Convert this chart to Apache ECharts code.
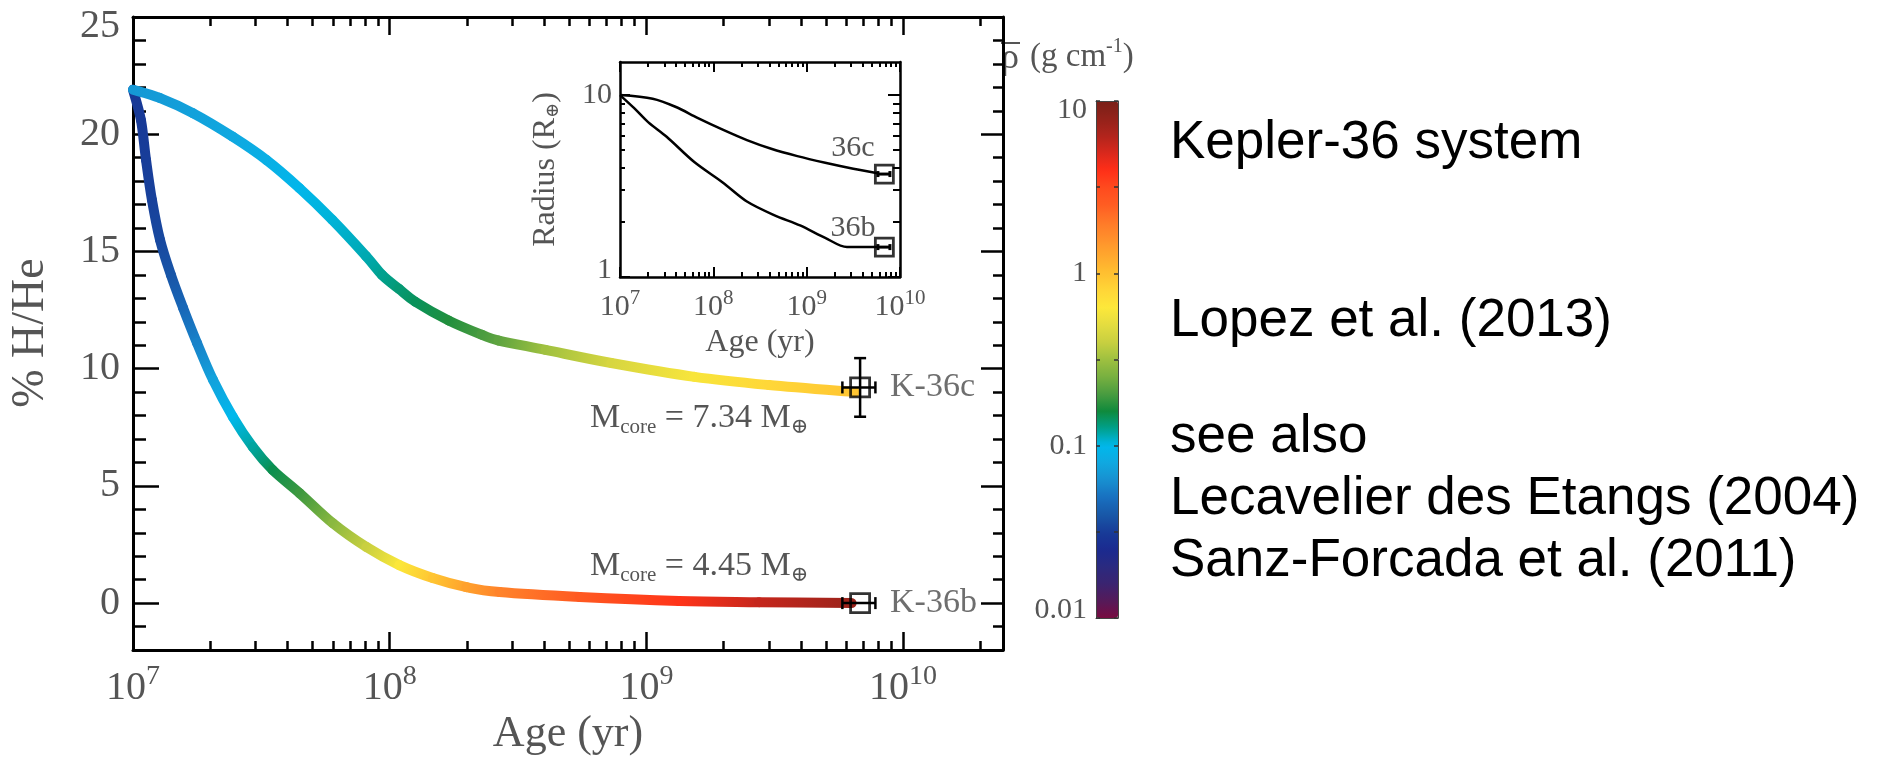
<!DOCTYPE html>
<html>
<head>
<meta charset="utf-8">
<script src="https://cdn.jsdelivr.net/npm/echarts@6/dist/echarts.min.js"></script>
<style>
  html, body { margin: 0; padding: 0; background: #fff; }
  #chart { width: 1882px; height: 757px; }
</style>
</head>
<body>
<div id="chart"></div>
<script>
// ---- Fonts and colours ----
const SERIF = "'Liberation Serif', 'DejaVu Serif', serif";
const SANS = "'Liberation Sans', 'DejaVu Sans', sans-serif";
const TEXT_GRAY = '#555';

// ---- Main panel: H/He envelope fraction (%) vs age (yr), with mean density (g cm^-3) ----
const ageC = [1e7, 1.27e7, 1.71e7, 2.44e7, 3.31e7, 4.45e7, 5.97e7, 8.09e7, 9.33e7, 1.087e8, 1.26e8, 1.7e8, 2.28e8, 2.66e8, 4.05e8, 7.3e8, 1.54e9, 3.0e9, 6.5e9];
const hheC = [21.9, 21.55, 20.9, 19.9, 18.9, 17.7, 16.35, 14.8, 14.0, 13.4, 12.85, 12.05, 11.45, 11.2, 10.8, 10.24, 9.65, 9.3, 9.0];
const rhoC = [0.068, 0.07, 0.074, 0.08, 0.088, 0.097, 0.105, 0.115, 0.125, 0.135, 0.145, 0.17, 0.2, 0.22, 0.32, 0.45, 0.6, 0.78, 0.95];

const ageB = [1e7, 1.074e7, 1.124e7, 1.185e7, 1.274e7, 1.405e7, 1.566e7, 1.775e7, 2.05e7, 2.45e7, 2.93e7, 3.5e7, 4.46e7, 6.0e7, 8.12e7, 1.09e8, 1.47e8, 1.99e8, 2.68e8, 5.5e8, 1.34e9, 2.75e9, 6.3e9];
const hheB = [21.9, 20.6, 18.9, 17.2, 15.5, 14.0, 12.6, 11.1, 9.52, 7.94, 6.66, 5.68, 4.69, 3.41, 2.39, 1.62, 1.07, 0.68, 0.47, 0.26, 0.09, 0.04, 0.0];
const rhoB = [0.03, 0.031, 0.032, 0.033, 0.035, 0.039, 0.046, 0.057, 0.075, 0.1, 0.12, 0.15, 0.19, 0.28, 0.4, 0.62, 0.95, 1.35, 1.8, 2.6, 3.8, 5.6, 7.4];

// ---- Observed planets ----
const planetNames = ['K-36c', 'K-36b'];
const planetAge = [6.8e9, 6.8e9];
const planetAgeLow = [5.8e9, 5.8e9];
const planetAgeHigh = [7.8e9, 7.8e9];
const planetHHe = [9.2, 0.0];
const planetHHeLow = [7.95, 0.0];
const planetHHeHigh = [10.45, 0.0];
const planetRadius = [3.68, 1.46];
const insetNames = ['36c', '36b'];
const coreMasses = ['7.34', '4.45'];

// ---- Inset: radius (Earth radii) vs age ----
const radAgeC = [1e7, 2.24e7, 3.98e7, 6.76e7, 1.26e8, 2.29e8, 4.17e8, 7.94e8, 1.58e9, 3.16e9, 5.75e9];
const radC = [10, 9.55, 8.6, 7.5, 6.46, 5.66, 5.07, 4.62, 4.25, 3.94, 3.72];
const radAgeB = [1e7, 1.41e7, 2.0e7, 3.16e7, 6.3e7, 1.26e8, 2.29e8, 4.47e8, 8.5e8, 1.58e9, 2.7e9, 5.75e9];
const radB = [10, 8.5, 7.1, 5.9, 4.27, 3.31, 2.6, 2.19, 1.92, 1.64, 1.46, 1.46];

// ---- Ticks ----
const ageDecades = [1e7, 1e8, 1e9, 1e10];
const hheMajorTicks = [0, 5, 10, 15, 20, 25];
const hheMinorTicks = [-1, 1, 2, 3, 4, 6, 7, 8, 9, 11, 12, 13, 14, 16, 17, 18, 19, 21, 22, 23, 24];
const radiusMajorTicks = [1, 10];
const radiusMinorTicks = [2, 3, 4, 5, 6, 7, 8, 9];
const rhoLabelTicks = [0.01, 0.1, 1, 10];
const rhoTickMarks = [0.01, 0.0316, 0.1, 0.316, 1, 3.16, 10];

// Density colour scale, log10(rho) from -2 to 1 in steps of 0.1
const rhoColors = ['#780c40', '#551a5a', '#3a2470', '#2a2a80', '#1a2a90', '#183c98', '#1858a8', '#1870c0', '#1890d0', '#10a8e0',
  '#00b8ec', '#00a08c', '#0f8a3c', '#4a9c40', '#78b040', '#9ec040', '#c8d040', '#e4dc40', '#fde83a', '#ffd638',
  '#ffc030', '#ffa82e', '#ff902c', '#ff7828', '#ff5c22', '#ff4a1e', '#ff2e18', '#d8281c', '#b0241c', '#92221a', '#7a2018'];

const sideNotes = ['Kepler-36 system', 'Lopez et al. (2013)', 'see also', 'Lecavelier des Etangs (2004)', 'Sanz-Forcada et al. (2011)'];

// ---- Helpers ----
function minorLogTicks(decades, maxValue) {
  const out = [];
  decades.forEach(d => { for (let m = 2; m <= 9; m++) { if (d * m <= maxValue) out.push(d * m); } });
  return out;
}

const MAIN_AGE_MAX = 2.45e10;
const INSET_AGE_MAX = 1e10;

const expRich = (base, sup, lh) => ({
  b: { fontFamily: SERIF, fontSize: base, color: TEXT_GRAY, lineHeight: lh },
  e: { fontFamily: SERIF, fontSize: sup, color: TEXT_GRAY, verticalAlign: 'top', lineHeight: sup }
});
const powerLabel = v => '{b|10}{e|' + Math.round(Math.log10(v)) + '}';

function ageAxis(grid, pos, major, o) {
  return {
    gridIndex: grid, type: 'log', logBase: 10, min: 1e7, max: o.max, position: pos, silent: true,
    axisLine: { show: major, onZero: false, lineStyle: { color: '#000', width: o.lineWidth } },
    axisTick: { show: true, inside: true, length: major ? o.majorLen : o.minorLen,
      customValues: major ? ageDecades : minorLogTicks(ageDecades, o.max),
      lineStyle: { color: '#000', width: o.tickWidth } },
    axisLabel: (major && pos === 'bottom') ? {
      show: true, customValues: ageDecades, margin: o.labelMargin,
      formatter: powerLabel, rich: expRich(o.labelSize, o.supSize, o.labelLH)
    } : { show: false },
    name: (major && pos === 'bottom') ? 'Age (yr)' : '',
    nameLocation: 'middle', nameGap: o.nameGap,
    nameTextStyle: { fontFamily: SERIF, fontSize: o.nameSize, color: TEXT_GRAY },
    splitLine: { show: false }, minorTick: { show: false }, minorSplitLine: { show: false }
  };
}

function valueAxis(grid, pos, major, o) {
  const isLabelled = major && pos === 'left';
  return {
    gridIndex: grid, type: o.type, logBase: 10, min: o.min, max: o.max, position: pos, silent: true,
    axisLine: { show: major, onZero: false, lineStyle: { color: '#000', width: o.lineWidth } },
    axisTick: { show: true, inside: true,
      length: major ? (pos === 'left' ? o.majorLenL : o.majorLenR) : (pos === 'left' ? o.minorLenL : o.minorLenR),
      customValues: major ? o.majorTicks : o.minorTicks,
      lineStyle: { color: '#000', width: o.tickWidth } },
    axisLabel: isLabelled ? {
      show: true, customValues: o.majorTicks, margin: o.labelMargin,
      formatter: o.formatter, rich: o.rich
    } : { show: false },
    name: isLabelled && o.name ? o.name : '',
    nameLocation: 'middle', nameGap: o.nameGap || 0, nameRotate: 90,
    nameTextStyle: o.nameStyle || {},
    splitLine: { show: false }, minorTick: { show: false }, minorSplitLine: { show: false }
  };
}

// ---- Axis options ----
const mainAgeOpt = { max: MAIN_AGE_MAX, lineWidth: 3, tickWidth: 2.5, majorLen: 18, minorLen: 9,
  labelMargin: 13, labelSize: 40, supSize: 28, labelLH: 50, nameGap: 59, nameSize: 44 };
const insetAgeOpt = { max: INSET_AGE_MAX, lineWidth: 2.5, tickWidth: 2, majorLen: 10, minorLen: 5,
  labelMargin: 11, labelSize: 30, supSize: 21, labelLH: 38, nameGap: 50, nameSize: 32 };

const mainHHeOpt = {
  type: 'value', min: -2, max: 25, lineWidth: 3, tickWidth: 2.5,
  majorLenL: 26, majorLenR: 22, minorLenL: 13, minorLenR: 10,
  majorTicks: hheMajorTicks, minorTicks: hheMinorTicks, labelMargin: 13,
  formatter: v => (v === 25 ? '{t|' + v + '}' : '{n|' + v + '}'),
  rich: {
    n: { fontFamily: SERIF, fontSize: 40, color: TEXT_GRAY },
    t: { fontFamily: SERIF, fontSize: 40, color: TEXT_GRAY, padding: [18, 0, 0, 0] }
  }
};
const insetRadOpt = {
  type: 'log', min: 1, max: 15.2, lineWidth: 2.5, tickWidth: 2,
  majorLenL: 10, majorLenR: 12, minorLenL: 5, minorLenR: 7,
  majorTicks: radiusMajorTicks, minorTicks: radiusMinorTicks, labelMargin: 8,
  formatter: v => (v === 1 ? '{lo|1}' : '{n|' + v + '}'),
  rich: {
    n: { fontFamily: SERIF, fontSize: 30, color: TEXT_GRAY },
    lo: { fontFamily: SERIF, fontSize: 30, color: TEXT_GRAY, padding: [0, 0, 14, 0] }
  },
  name: 'Radius (R{s|⊕})', nameGap: 58,
  nameStyle: { fontFamily: SERIF, fontSize: 32, color: TEXT_GRAY,
    rich: { s: { fontFamily: SERIF, fontSize: 18, color: TEXT_GRAY, verticalAlign: 'bottom', lineHeight: 18 } } }
};

// Colour-bar frame axes
const cbFrameX = pos => ({
  gridIndex: 2, type: 'value', min: 0, max: 1, position: pos, silent: true, z: 6,
  axisLine: { show: true, onZero: false, lineStyle: { color: '#444', width: 1 } },
  axisTick: { show: false }, axisLabel: { show: false }, splitLine: { show: false }
});
const cbFrameY = pos => ({
  gridIndex: 2, type: 'log', logBase: 10, min: 0.01, max: 10, position: pos, silent: true, z: 6,
  axisLine: { show: true, onZero: false, lineStyle: { color: '#444', width: 1 } },
  axisTick: { show: true, inside: true, length: 4, customValues: rhoTickMarks, lineStyle: { color: '#333', width: 1.5 } },
  axisLabel: pos === 'left' ? {
    show: true, customValues: rhoLabelTicks, margin: 9,
    formatter: v => (v === 10 ? '{hi|10}' : v === 0.01 ? '{lo|0.01}' : '{n|' + v + '}'),
    rich: {
      n: { fontFamily: SERIF, fontSize: 30, color: TEXT_GRAY },
      hi: { fontFamily: SERIF, fontSize: 30, color: TEXT_GRAY, padding: [18, 0, 0, 0] },
      lo: { fontFamily: SERIF, fontSize: 30, color: TEXT_GRAY, padding: [0, 0, 16, 0] }
    }
  } : { show: false },
  splitLine: { show: false }, minorTick: { show: false }
});

// ---- Series renderers ----
// Thick track: each piece is a Catmull-Rom bezier between neighbouring samples,
// shaded from one density colour to the next
function renderTrack(params, api) {
  const i = params.dataIndexInside;
  const n = params.dataInsideLength;
  if (i >= n - 1) return { type: 'group', children: [] };
  const pt = k => api.coord([api.value(0, k), api.value(1, k)]);
  const p1 = pt(i), p2 = pt(i + 1);
  const p0 = i > 0 ? pt(i - 1) : p1;
  const p3 = i + 2 < n ? pt(i + 2) : p2;
  const c0 = api.visual('color', i);
  const c1 = api.visual('color', i + 1);
  return {
    type: 'bezierCurve',
    shape: {
      x1: p1[0], y1: p1[1], x2: p2[0], y2: p2[1],
      cpx1: p1[0] + (p2[0] - p0[0]) / 6, cpy1: p1[1] + (p2[1] - p0[1]) / 6,
      cpx2: p2[0] - (p3[0] - p1[0]) / 6, cpy2: p2[1] - (p3[1] - p1[1]) / 6
    },
    style: {
      fill: null,
      stroke: new echarts.graphic.LinearGradient(p1[0], p1[1], p2[0], p2[1],
        [{ offset: 0, color: c0 }, { offset: 1, color: c1 }], true),
      lineWidth: 10, lineCap: 'round'
    }
  };
}

function makeErrorBarRenderer(cap, width) {
  return function (params, api) {
    const x = api.value(0), y = api.value(1);
    const c = api.coord([x, y]);
    const xl = api.coord([api.value(2), y]);
    const xh = api.coord([api.value(3), y]);
    const yl = api.coord([x, api.value(4)]);
    const yh = api.coord([x, api.value(5)]);
    const st = { stroke: '#000', lineWidth: width, lineCap: 'butt' };
    const kids = [
      { type: 'line', shape: { x1: xl[0], y1: c[1], x2: xh[0], y2: c[1] }, style: st },
      { type: 'line', shape: { x1: xl[0], y1: c[1] - cap, x2: xl[0], y2: c[1] + cap }, style: st },
      { type: 'line', shape: { x1: xh[0], y1: c[1] - cap, x2: xh[0], y2: c[1] + cap }, style: st }
    ];
    if (Math.abs(yl[1] - yh[1]) > 1) {
      kids.push(
        { type: 'line', shape: { x1: c[0], y1: yl[1], x2: c[0], y2: yh[1] }, style: st },
        { type: 'line', shape: { x1: c[0] - cap, y1: yl[1], x2: c[0] + cap, y2: yl[1] }, style: st },
        { type: 'line', shape: { x1: c[0] - cap, y1: yh[1], x2: c[0] + cap, y2: yh[1] }, style: st }
      );
    }
    return { type: 'group', children: kids };
  };
}

const trackData = (ages, hhe, rho) => ages.map((a, i) => [a, hhe[i], Math.log10(rho[i])]);
const pairs = (xs, ys) => xs.map((x, i) => [x, ys[i]]);

// ---- Annotations ----
const coreLabel = (mass, x, y) => ({
  type: 'text', x: x, y: y, silent: true,
  style: {
    text: '{m|M}{s|core}{m| = ' + mass + ' M}{s|⊕}',
    align: 'left', verticalAlign: 'middle',
    rich: {
      m: { fontFamily: SERIF, fontSize: 34, fill: TEXT_GRAY, lineHeight: 40 },
      s: { fontFamily: SERIF, fontSize: 21, fill: TEXT_GRAY, lineHeight: 22, verticalAlign: 'bottom' }
    }
  }
});
const textEl = (text, x, y, size, family, color, align, extra) => Object.assign({
  type: 'text', x: x, y: y, silent: true,
  style: { text: text, fontFamily: family, fontSize: size, fill: color, align: align || 'left', verticalAlign: 'middle' }
}, extra || {});

const sideNoteY = [143, 321, 437, 499, 561];

const option = {
  backgroundColor: '#fff',
  animation: false,
  grid: [
    { left: 133, top: 17, width: 870, height: 633, containLabel: false, outerBoundsMode: 'none' },
    { left: 620, top: 62, width: 280, height: 215, containLabel: false, outerBoundsMode: 'none' },
    { left: 1096, top: 101, width: 22, height: 517, containLabel: false, outerBoundsMode: 'none' }
  ],
  xAxis: [
    ageAxis(0, 'bottom', true, mainAgeOpt),
    ageAxis(0, 'bottom', false, mainAgeOpt),
    ageAxis(0, 'top', true, mainAgeOpt),
    ageAxis(0, 'top', false, mainAgeOpt),
    ageAxis(1, 'bottom', true, insetAgeOpt),
    ageAxis(1, 'bottom', false, insetAgeOpt),
    ageAxis(1, 'top', true, insetAgeOpt),
    ageAxis(1, 'top', false, insetAgeOpt),
    cbFrameX('bottom'),
    cbFrameX('top')
  ],
  yAxis: [
    valueAxis(0, 'left', true, mainHHeOpt),
    valueAxis(0, 'left', false, mainHHeOpt),
    valueAxis(0, 'right', true, mainHHeOpt),
    valueAxis(0, 'right', false, mainHHeOpt),
    valueAxis(1, 'left', true, insetRadOpt),
    valueAxis(1, 'left', false, insetRadOpt),
    valueAxis(1, 'right', true, insetRadOpt),
    valueAxis(1, 'right', false, insetRadOpt),
    cbFrameY('left'),
    cbFrameY('right')
  ],
  visualMap: {
    type: 'continuous', seriesIndex: [0, 1], dimension: 2,
    min: -2, max: 1, orient: 'vertical',
    left: 1096, top: 101, itemWidth: 22, itemHeight: 517,
    padding: 0, calculable: false, hoverLink: false,
    inRange: { color: rhoColors }
  },
  series: [
    { type: 'custom', name: 'K-36b track', xAxisIndex: 0, yAxisIndex: 0, silent: true, z: 3,
      dimensions: ['age', 'hhe', 'logRho'], encode: { x: 0, y: 1 },
      data: trackData(ageB, hheB, rhoB), renderItem: renderTrack },
    { type: 'custom', name: 'K-36c track', xAxisIndex: 0, yAxisIndex: 0, silent: true, z: 3,
      dimensions: ['age', 'hhe', 'logRho'], encode: { x: 0, y: 1 },
      data: trackData(ageC, hheC, rhoC), renderItem: renderTrack },
    { type: 'custom', name: 'errors', xAxisIndex: 0, yAxisIndex: 0, silent: true, z: 5,
      encode: { x: 0, y: 1 },
      data: planetNames.map((n, i) => [planetAge[i], planetHHe[i], planetAgeLow[i], planetAgeHigh[i], planetHHeLow[i], planetHHeHigh[i]]),
      renderItem: makeErrorBarRenderer(6, 2.5) },
    { type: 'scatter', name: 'planets', xAxisIndex: 0, yAxisIndex: 0, silent: true, z: 6,
      symbol: 'rect', symbolSize: 19,
      itemStyle: { color: 'rgba(0,0,0,0)', borderColor: '#000', borderWidth: 2.8 },
      label: { show: true, position: 'right', distance: 19, formatter: '{b}',
        fontFamily: SERIF, fontSize: 34, color: '#4a4a4a' },
      data: planetNames.map((n, i) => ({ name: n, value: [planetAge[i], planetHHe[i]] })) },
    { type: 'line', name: '36c radius', xAxisIndex: 4, yAxisIndex: 4, silent: true, z: 3,
      showSymbol: false, smooth: 0.3,
      lineStyle: { color: '#000', width: 2.5 }, data: pairs(radAgeC, radC) },
    { type: 'line', name: '36b radius', xAxisIndex: 4, yAxisIndex: 4, silent: true, z: 3,
      showSymbol: false, smooth: 0.3,
      lineStyle: { color: '#000', width: 2.5 }, data: pairs(radAgeB, radB) },
    { type: 'custom', name: 'inset errors', xAxisIndex: 4, yAxisIndex: 4, silent: true, z: 5,
      encode: { x: 0, y: 1 },
      data: planetNames.map((n, i) => [planetAge[i], planetRadius[i], planetAgeLow[i], planetAgeHigh[i], planetRadius[i], planetRadius[i]]),
      renderItem: makeErrorBarRenderer(3, 3) },
    { type: 'scatter', name: 'inset planets', xAxisIndex: 4, yAxisIndex: 4, silent: true, z: 6,
      symbol: 'rect', symbolSize: 18,
      itemStyle: { color: 'rgba(0,0,0,0)', borderColor: '#000', borderWidth: 2.8 },
      data: planetNames.map((n, i) => ({ name: insetNames[i], value: [planetAge[i], planetRadius[i]] })) }
  ],
  graphic: [
    textEl('% H/He', 31, 333, 46, SERIF, TEXT_GRAY, 'center', { rotation: Math.PI / 2 }),
    coreLabel(coreMasses[0], 590, 418),
    coreLabel(coreMasses[1], 590, 566),
    textEl(insetNames[0], 853, 148, 30, SERIF, TEXT_GRAY, 'center'),
    textEl(insetNames[1], 853, 228, 30, SERIF, TEXT_GRAY, 'center'),
    // colour-bar title: rho with an overbar, then units
    textEl('ρ', 1001, 59, 36, SERIF, TEXT_GRAY, 'left'),
    { type: 'line', silent: true, shape: { x1: 1001, y1: 43, x2: 1020, y2: 43 }, style: { stroke: TEXT_GRAY, lineWidth: 2 } },
    {
      type: 'text', x: 1030, y: 57, silent: true,
      style: {
        text: '{n|(g cm}{s|-1}{n|)}', align: 'left', verticalAlign: 'middle',
        rich: {
          n: { fontFamily: SERIF, fontSize: 33, fill: TEXT_GRAY, lineHeight: 40 },
          s: { fontFamily: SERIF, fontSize: 20, fill: TEXT_GRAY, lineHeight: 22, verticalAlign: 'top' }
        }
      }
    }
  ].concat(sideNotes.map((t, i) => textEl(t, 1170, sideNoteY[i], 53, SANS, '#000', 'left')))
};

const chart = echarts.init(document.getElementById('chart'), null, { renderer: 'canvas' });
chart.setOption(option);
</script>
</body>
</html>
